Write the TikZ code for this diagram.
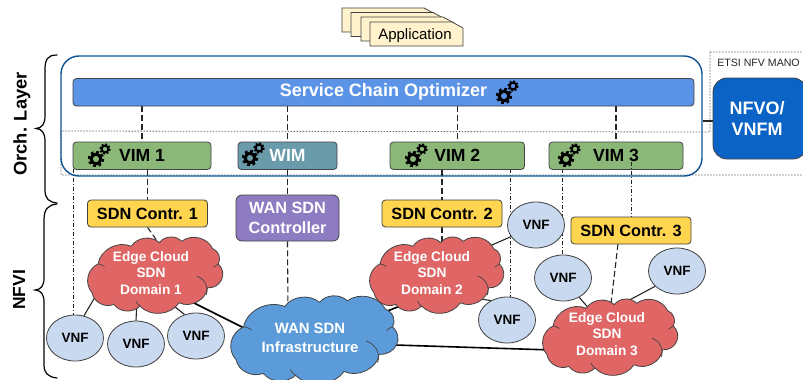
\documentclass[tikz,border=0pt]{standalone}
\usepackage{fontspec}
\setmainfont{Liberation Sans}
\usetikzlibrary{backgrounds,shapes.geometric}
\definecolor{cOrch}{HTML}{0B5394}
\definecolor{cEdge}{HTML}{434343}
\definecolor{cSco}{HTML}{5B93E6}
\definecolor{cVim}{HTML}{8BB878}
\definecolor{cWim}{HTML}{6A9BAB}
\definecolor{cSdn}{HTML}{FFD54F}
\definecolor{cWanc}{HTML}{8E7CC3}
\definecolor{cRed}{HTML}{E06666}
\definecolor{cWan}{HTML}{5B9BD9}
\definecolor{cVnf}{HTML}{C9DAF0}
\definecolor{cApp}{HTML}{FFF2CC}
\definecolor{cNfvo}{HTML}{0B63C5}
\newcommand{\bfs}[1]{\fontsize{#1}{#1}\selectfont\bfseries}
\newcommand{\cloudshape}[5]{%
  \begin{scope}[shift={(#1,#2)},xscale=#3/415,yscale=#4/220]
    \draw[fill=#5,draw=cEdge,line width=0.8pt,line join=round]
      (15,165) to[bend left=52,looseness=1.05] (33,78) to[bend left=52] (132,25)
      to[bend left=50] (216,14) to[bend left=50] (283,10)
      to[bend left=52] (375,32) to[bend left=50] (392,78)
      to[bend left=70,looseness=1.3] (360,150) to[bend left=55] (275,195)
      to[bend left=52] (158,205) to[bend left=50] (80,200)
      to[bend left=52] (15,165) -- cycle;
    \draw[draw=cEdge,line width=0.7pt]
      (328,115) to[bend left=45] (356,172)
      (33,78) to[bend left=15] (52,86)
      (392,78) to[bend right=15] (378,88)
      (158,205) to[bend left=15] (146,190);
  \end{scope}}
\tikzset{
  x=1pt,y=-1pt,
  boxbase/.style={draw=cEdge,line width=0.8pt,rounded corners=3.5pt,inner sep=0pt,align=center},
  scobox/.style={boxbase,fill=cSco,text=white,minimum width=621pt,minimum height=27.5pt,font=\bfs{18}},
  vimbox/.style={boxbase,fill=cVim,minimum height=27.5pt,font=\bfs{17.6}},
  sdnbox/.style={boxbase,fill=cSdn,minimum width=120pt,minimum height=27pt,font=\bfs{16.3}},
  vnfnode/.style={ellipse,draw=cEdge,line width=0.8pt,fill=cVnf,minimum width=57pt,minimum height=46pt,inner sep=0pt,font=\bfs{13.5}},
  cloudlabel/.style={text=white,align=center,inner sep=0pt,font=\fontsize{13.7}{16.4}\selectfont\bfseries},
  ctl/.style={line width=1.1pt,draw=black!85,dash pattern=on 6pt off 3pt},
  ddot/.style={line width=1pt,draw=black!85,dash pattern=on 4pt off 2pt on 1pt off 2pt},
  thin link/.style={line width=1.1pt,draw=black!85},
  thick link/.style={line width=1.6pt,draw=black},
  grayline/.style={line width=0.8pt,draw=black!60,dash pattern=on 1.5pt off 1.5pt},
  appshape/.style={draw=cEdge,line width=0.8pt,fill=cApp},
  gearpair/.pic={
    \draw[line width=3pt] (0,0) circle[radius=4.8];
    \draw[line width=2.4pt,dash pattern=on 2.75pt off 2.75pt] (0,0) circle[radius=7];
    \draw[line width=2pt] (9,-10) circle[radius=3.4];
    \draw[line width=1.8pt,dash pattern=on 1.9pt off 1.9pt] (9,-10) circle[radius=4.9];
  }
}
\begin{document}
\begin{tikzpicture}
\useasboundingbox (0,0) rectangle (803,380);
\clip (0,0) rectangle (803,380);

% application stack
\foreach \ax/\ay in {342/8,351/12.5,361/17,370/22}
  \draw[appshape] (\ax,\ay) -- ++(82,0) -- ++(11,6) -- ++(0,18) -- ++(-93,0) -- cycle;
\node[inner sep=0pt,font=\fontsize{15}{15}\selectfont] (app) at (415,36) {Application};

% main boxes
\node[draw=cOrch,line width=1.4pt,rounded corners=18pt,minimum width=641pt,minimum height=120pt,inner sep=0pt] (orch) at (381.5,116) {};
\node[scobox] (sco) at (383.5,92.25) {Service Chain Optimizer};
\node[vimbox,minimum width=138pt] (vim1) at (142,155.75) {VIM 1};
\node[vimbox,minimum width=99pt,fill=cWim,text=white] (wim) at (287.5,155.75) {WIM};
\node[vimbox,minimum width=134.5pt] (vim2) at (457.25,155.75) {VIM 2};
\node[vimbox,minimum width=134pt] (vim3) at (616,155.75) {VIM 3};

\node[sdnbox] (sdn1) at (147.5,213.5) {SDN Contr. 1};
\node[sdnbox] (sdn2) at (442,213.5) {SDN Contr. 2};
\node[sdnbox] (sdn3) at (631,230.5) {SDN Contr. 3};
\node[boxbase,rounded corners=6pt,fill=cWanc,text=white,minimum width=103pt,minimum height=46pt,font=\fontsize{16.3}{20}\selectfont\bfseries] (wanc) at (287.5,218) {WAN SDN\\Controller};

\draw[fill=cNfvo,draw=cEdge,line width=0.8pt,rounded corners=14pt] (713,78) rectangle (807,159);
\node[text=white,align=center,inner sep=0pt,minimum width=88pt,minimum height=81pt,font=\fontsize{18}{21}\selectfont\bfseries] (nfvo) at (757,118.5) {NFVO/\\VNFM};
\node[inner sep=0pt,font=\fontsize{10.6}{11}\selectfont,text=black!85] (etsi) at (758.5,63) {ETSI NFV MANO};

% clouds
\cloudshape{87}{238}{139}{73}{cRed}
\cloudshape{369}{238}{138}{73}{cRed}
\cloudshape{542}{300}{139}{73}{cRed}
\cloudshape{230}{297}{172}{84}{cWan}
\node[cloudlabel] (e1) at (151,273) {Edge Cloud\\SDN\\Domain 1};
\node[cloudlabel] (e2) at (432,273) {Edge Cloud\\SDN\\Domain 2};
\node[cloudlabel] (e3) at (607,334) {Edge Cloud\\SDN\\Domain 3};
\node[cloudlabel,font=\fontsize{14.9}{19}\selectfont\bfseries] (wan) at (310,338) {WAN SDN\\Infrastructure};

% VNFs
\node[vnfnode] (v1) at (75,338) {VNF};
\node[vnfnode] (v2) at (136,344) {VNF};
\node[vnfnode] (v3) at (196,336) {VNF};
\node[vnfnode] (v4) at (536,225) {VNF};
\node[vnfnode] (v5) at (507,320) {VNF};
\node[vnfnode] (v6) at (563,278) {VNF};
\node[vnfnode] (v7) at (677,271) {VNF};

% free ends
\coordinate (c11) at (98,292);
\coordinate (c12) at (137,300);
\coordinate (c13) at (160,295);
\coordinate (c14) at (186,299);
\coordinate (c15) at (160,245);
\coordinate (w1) at (246,329);
\coordinate (w2) at (380,314);
\coordinate (w3) at (395,345);
\coordinate (c21) at (485,248);
\coordinate (c22) at (470,297);
\coordinate (c23) at (415,300);
\coordinate (c24) at (442,248);
\coordinate (c31) at (552,350);
\coordinate (c32) at (592,312);
\coordinate (c33) at (622,304);
\coordinate (c34) at (610,312);
\coordinate (s3) at (618,244);
\coordinate (w4) at (288,315);
\coordinate (m1) at (702,121);
\coordinate (t2) at (510,169);
\coordinate (t3) at (562,169);
\coordinate (t4) at (631,162);
\coordinate (t1) at (73,169);

\begin{pgfonlayer}{background}
  \fill[white] (0,0) rectangle (803,380);
  \draw[grayline] (710,52) -- (803,52) (710,52) -- (710,132) -- (61,131) -- (61,175) -- (803,175);
  \draw[ctl] (sco.south -| vim1.north) -- (vim1.north);
  \draw[ctl] (sco.south -| wim.north) -- (wim.north);
  \draw[ctl] (sco.south -| vim2.north) -- (vim2.north);
  \draw[ctl] (sco.south -| vim3.north) -- (vim3.north);
  \draw[ctl] (vim1.south -| sdn1.north) -- (sdn1.north);
  \draw[ctl] (wim.south) -- (wanc.north);
  \draw[ctl] (vim2.south -| sdn2.north) -- (sdn2.north);
  \draw[ctl] (sdn1.south) -- (c15);
  \draw[ctl] (sdn2.south) -- (c24);
  \draw[ctl] (wanc.south) -- (w4);
  \draw[ctl] (s3) -- (c34);
  \draw[ddot] (t1) -- (t1 |- v1.north);
  \draw[ddot] (t2) -- (t2 |- v5.north);
  \draw[ddot] (t3) -- (t3 |- v6.north);
  \draw[thin link] (orch.east |- m1) -- (nfvo.west |- m1);
  \draw[thin link] (v1.68) -- (c11);
  \draw[thin link] (v2.north) -- (c12);
  \draw[thin link] (v3.118) -- (c13);
  \draw[thin link] (v4.205) -- (c21);
  \draw[thin link] (v5.130) -- (c22);
  \draw[thin link] (v6.310) -- (c32);
  \draw[thin link] (v7.215) -- (c33);
  \draw[thick link] (c14) -- (w1);
  \draw[thick link] (w2) -- (c23);
  \draw[thick link] (w3) -- (c31);
\end{pgfonlayer}
\draw[ddot] (t4) -- (t4 |- sdn3.north);

% gears
\pic at (96,159) {gearpair};
\pic at (250,158) {gearpair};
\pic at (413,159) {gearpair};
\pic at (566,159) {gearpair};
\pic at (504,96) {gearpair};

% braces
\draw[line width=1.2pt,line cap=round] (57,55) .. controls (47,55) and (45,60) .. (45,70) -- (45,116) .. controls (45,124) and (42,128) .. (36,128.5) .. controls (42,129) and (45,133) .. (45,141) -- (45,190) .. controls (45,199) and (49,202) .. (57,203);
\draw[line width=1.2pt,line cap=round] (57,204) .. controls (48,205) and (44,209) .. (44,220) -- (44,278) .. controls (44,286) and (41,289.5) .. (35,290) .. controls (41,290.5) and (44,294) .. (44,302) -- (44,365) .. controls (44,373) and (48,377) .. (57,378);
\node[rotate=90,inner sep=0pt,font=\bfs{18.3}] (orchl) at (22,124) {Orch. Layer};
\node[rotate=90,inner sep=0pt,font=\bfs{17.5}] (nfvil) at (19,290) {NFVI};
\end{tikzpicture}
\end{document}
